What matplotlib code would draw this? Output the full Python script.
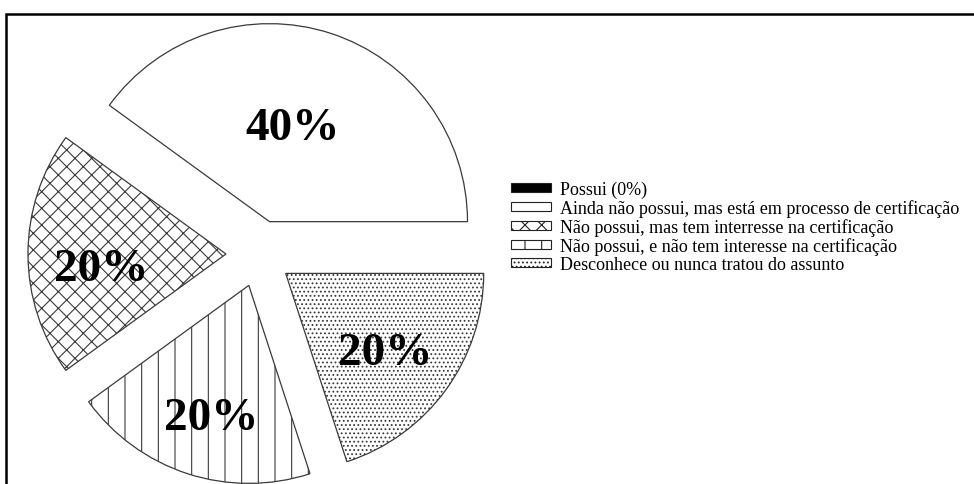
import numpy as np
import matplotlib
matplotlib.use("Agg")
import matplotlib.pyplot as plt
from matplotlib.patches import Patch, Rectangle

# =========================
# DATA
# =========================
categories = [
    "Possui (0%)",
    "Ainda não possui, mas está em processo de certificação",
    "Não possui, mas tem interresse na certificação",
    "Não possui, e não tem interesse na certificação",
    "Desconhece ou nunca tratou do assunto",
]
shares = [0, 40, 20, 20, 20]
pct_labels = ["", "40%", "20%", "20%", "20%"]

# =========================
# STYLE
# =========================
fills = ["black", "white", "white", "white", "white"]
hatches = [None, None, "xx", "|", "...."]
explode_px = [0, 34, 33, 33, 33]
label_dist = [0, 0.51, 0.63, 0.67, 0.63]
label_shift = [0, 5, 4.5, 1.5, -1.0]

plt.rcParams["font.family"] = ["Liberation Serif", "DejaVu Serif"]
plt.rcParams["hatch.linewidth"] = 0.8

W, H = 974, 485
fig = plt.figure(figsize=(W / 100, H / 100), dpi=100)
ax = fig.add_axes([0, 0, 1, 1])

# pie in pixel units (y up)
cx, cy, radius = 259, H - 255, 198

# zero-size slices are left out of the pie, they only appear in the legend
idx = [i for i, v in enumerate(shares) if v > 0]
wedges, _ = ax.pie(
    [shares[i] for i in idx],
    explode=[explode_px[i] for i in idx],
    colors=[fills[i] for i in idx],
    startangle=0,
    counterclock=True,
    center=(cx, cy),
    radius=radius,
    wedgeprops=dict(edgecolor="#3a3a3a", linewidth=0.9),
)
for w, i in zip(wedges, idx):
    if hatches[i]:
        w.set_hatch(hatches[i])
    # percentage text placed inside each slice
    ang = np.deg2rad((w.theta1 + w.theta2) / 2 + label_shift[i])
    x = w.center[0] + label_dist[i] * radius * np.cos(ang)
    y = w.center[1] + label_dist[i] * radius * np.sin(ang)
    ax.text(x, y, pct_labels[i], ha="center", va="center_baseline",
            fontsize=34, fontweight="bold")

ax.set_xlim(0, W)
ax.set_ylim(0, H)
ax.set_aspect("equal")
ax.axis("off")

# =========================
# LEGEND
# =========================
handles = [Patch(facecolor=fills[i], edgecolor="#222222", hatch=hatches[i],
                 linewidth=0.8) for i in range(len(categories))]
leg = fig.legend(handles, categories, loc="upper left",
                 bbox_to_anchor=(511 / W, 1 - 182 / H), frameon=False,
                 fontsize=13, handlelength=2.2, handleheight=0.4,
                 handletextpad=0.5, labelspacing=0.05, borderpad=0,
                 borderaxespad=0)

# outer frame, open on the right and bottom
fig.patches.append(Rectangle((6 / W, -0.05), 1.1, 1.05 - 15 / H,
                             transform=fig.transFigure, fill=False,
                             edgecolor="black", linewidth=1.8))

fig.savefig("out.png", dpi=100)
